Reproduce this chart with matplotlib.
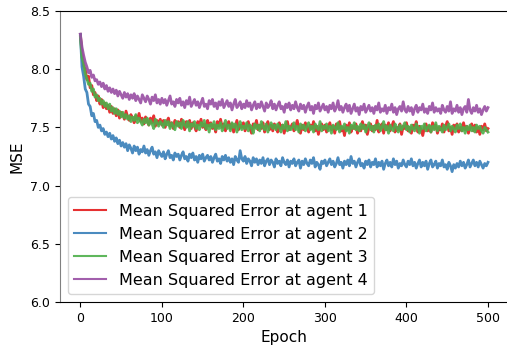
import numpy as np
import matplotlib
matplotlib.use("Agg")
import matplotlib.pyplot as plt

# MSE per agent, read every 2 epochs from the reference (epochs 0..500)
mse_agent1 = [
    8.30, 8.14, 8.03, 8.00, 7.91, 7.94, 7.84, 7.86, 7.78, 7.80,
    7.73, 7.77, 7.70, 7.74, 7.67, 7.71, 7.66, 7.69, 7.63, 7.68,
    7.62, 7.66, 7.60, 7.65, 7.58, 7.63, 7.61, 7.57, 7.64, 7.59,
    7.56, 7.61, 7.58, 7.54, 7.60, 7.57, 7.62, 7.55, 7.58, 7.53,
    7.59, 7.55, 7.52, 7.58, 7.54, 7.60, 7.51, 7.56, 7.53, 7.57,
    7.52, 7.56, 7.50, 7.55, 7.58, 7.51, 7.54, 7.49, 7.56, 7.52,
    7.55, 7.50, 7.57, 7.53, 7.48, 7.55, 7.51, 7.56, 7.49, 7.54,
    7.51, 7.47, 7.55, 7.52, 7.57, 7.50, 7.53, 7.48, 7.56, 7.51,
    7.54, 7.49, 7.52, 7.46, 7.55, 7.51, 7.57, 7.50, 7.53, 7.47,
    7.52, 7.55, 7.49, 7.53, 7.46, 7.51, 7.56, 7.48, 7.52, 7.50,
    7.54, 7.47, 7.51, 7.55, 7.49, 7.45, 7.53, 7.50, 7.56, 7.48,
    7.52, 7.49, 7.54, 7.46, 7.51, 7.55, 7.48, 7.52, 7.47, 7.53,
    7.50, 7.46, 7.54, 7.49, 7.52, 7.45, 7.51, 7.55, 7.48, 7.50,
    7.53, 7.47, 7.51, 7.56, 7.49, 7.45, 7.52, 7.48, 7.54, 7.50,
    7.46, 7.52, 7.49, 7.55, 7.47, 7.51, 7.44, 7.50, 7.53, 7.48,
    7.52, 7.46, 7.50, 7.54, 7.48, 7.51, 7.45, 7.53, 7.49, 7.55,
    7.47, 7.50, 7.43, 7.52, 7.48, 7.54, 7.46, 7.51, 7.49, 7.53,
    7.45, 7.50, 7.47, 7.55, 7.49, 7.52, 7.44, 7.50, 7.53, 7.47,
    7.51, 7.48, 7.56, 7.46, 7.50, 7.53, 7.45, 7.52, 7.48, 7.54,
    7.47, 7.51, 7.55, 7.46, 7.50, 7.48, 7.53, 7.44, 7.51, 7.49,
    7.54, 7.47, 7.50, 7.45, 7.52, 7.49, 7.55, 7.46, 7.51, 7.48,
    7.43, 7.50, 7.53, 7.47, 7.51, 7.46, 7.54, 7.49, 7.52, 7.45,
    7.50, 7.48, 7.53, 7.46, 7.51, 7.55, 7.47, 7.50, 7.44, 7.52,
    7.49, 7.53, 7.46, 7.50, 7.47, 7.54, 7.48, 7.51, 7.45, 7.50,
    7.53, 7.47, 7.52, 7.46, 7.50, 7.44, 7.51, 7.48, 7.53, 7.47,
    7.49]
mse_agent2 = [
    8.30, 8.02, 7.94, 7.83, 7.80, 7.70, 7.68, 7.60, 7.62, 7.55,
    7.56, 7.50, 7.52, 7.47, 7.49, 7.44, 7.46, 7.42, 7.45, 7.40,
    7.43, 7.38, 7.41, 7.36, 7.39, 7.34, 7.37, 7.33, 7.36, 7.30,
    7.35, 7.32, 7.28, 7.34, 7.30, 7.33, 7.27, 7.31, 7.29, 7.34,
    7.28, 7.31, 7.26, 7.30, 7.33, 7.27, 7.29, 7.24, 7.30, 7.27,
    7.25, 7.29, 7.23, 7.27, 7.30, 7.24, 7.26, 7.22, 7.28, 7.25,
    7.27, 7.22, 7.26, 7.29, 7.23, 7.25, 7.21, 7.27, 7.24, 7.28,
    7.22, 7.25, 7.20, 7.26, 7.23, 7.27, 7.21, 7.24, 7.26, 7.22,
    7.25, 7.20, 7.24, 7.27, 7.21, 7.23, 7.19, 7.25, 7.22, 7.26,
    7.21, 7.24, 7.20, 7.23, 7.18, 7.25, 7.22, 7.20, 7.30, 7.23,
    7.21, 7.25, 7.19, 7.23, 7.21, 7.17, 7.24, 7.20, 7.23, 7.18,
    7.22, 7.19, 7.24, 7.17, 7.21, 7.23, 7.18, 7.22, 7.20, 7.16,
    7.23, 7.19, 7.21, 7.17, 7.24, 7.20, 7.18, 7.22, 7.16, 7.21,
    7.19, 7.23, 7.17, 7.20, 7.22, 7.15, 7.21, 7.18, 7.23, 7.19,
    7.17, 7.22, 7.19, 7.24, 7.16, 7.20, 7.18, 7.14, 7.21, 7.19,
    7.22, 7.17, 7.20, 7.23, 7.18, 7.21, 7.16, 7.19, 7.24, 7.18,
    7.20, 7.15, 7.21, 7.18, 7.22, 7.17, 7.25, 7.19, 7.21, 7.16,
    7.20, 7.23, 7.17, 7.19, 7.15, 7.21, 7.18, 7.22, 7.16, 7.20,
    7.18, 7.23, 7.16, 7.20, 7.17, 7.21, 7.14, 7.19, 7.22, 7.17,
    7.20, 7.16, 7.23, 7.18, 7.21, 7.15, 7.19, 7.17, 7.22, 7.18,
    7.16, 7.21, 7.18, 7.23, 7.17, 7.20, 7.15, 7.19, 7.22, 7.16,
    7.20, 7.17, 7.21, 7.14, 7.19, 7.22, 7.16, 7.18, 7.21, 7.15,
    7.19, 7.17, 7.22, 7.16, 7.18, 7.14, 7.20, 7.17, 7.12, 7.18,
    7.15, 7.19, 7.16, 7.21, 7.17, 7.20, 7.15, 7.18, 7.22, 7.16,
    7.19, 7.22, 7.17, 7.20, 7.16, 7.21, 7.18, 7.15, 7.19, 7.17,
    7.20]
mse_agent3 = [
    8.28, 8.10, 8.05, 7.96, 7.92, 7.87, 7.88, 7.81, 7.83, 7.76,
    7.78, 7.73, 7.75, 7.70, 7.73, 7.68, 7.71, 7.66, 7.70, 7.64,
    7.67, 7.62, 7.66, 7.61, 7.64, 7.59, 7.63, 7.58, 7.61, 7.57,
    7.60, 7.55, 7.59, 7.56, 7.61, 7.54, 7.58, 7.55, 7.52, 7.57,
    7.54, 7.58, 7.52, 7.56, 7.53, 7.49, 7.57, 7.54, 7.51, 7.55,
    7.53, 7.50, 7.56, 7.52, 7.55, 7.49, 7.54, 7.51, 7.48, 7.55,
    7.51, 7.54, 7.49, 7.56, 7.52, 7.50, 7.55, 7.47, 7.53, 7.51,
    7.55, 7.49, 7.52, 7.48, 7.54, 7.51, 7.56, 7.49, 7.52, 7.46,
    7.53, 7.50, 7.55, 7.48, 7.52, 7.49, 7.54, 7.47, 7.51, 7.56,
    7.49, 7.52, 7.47, 7.54, 7.50, 7.53, 7.46, 7.51, 7.55, 7.48,
    7.51, 7.49, 7.54, 7.47, 7.52, 7.50, 7.45, 7.53, 7.49, 7.52,
    7.47, 7.55, 7.50, 7.48, 7.53, 7.46, 7.51, 7.54, 7.49, 7.52,
    7.48, 7.53, 7.50, 7.46, 7.52, 7.49, 7.55, 7.47, 7.51, 7.48,
    7.50, 7.54, 7.48, 7.51, 7.46, 7.53, 7.49, 7.52, 7.47, 7.51,
    7.54, 7.48, 7.51, 7.46, 7.53, 7.50, 7.48, 7.55, 7.47, 7.51,
    7.49, 7.53, 7.47, 7.51, 7.45, 7.52, 7.50, 7.48, 7.54, 7.46,
    7.51, 7.49, 7.53, 7.47, 7.50, 7.45, 7.52, 7.49, 7.54, 7.48,
    7.51, 7.47, 7.53, 7.49, 7.52, 7.46, 7.50, 7.54, 7.48, 7.51,
    7.46, 7.52, 7.49, 7.53, 7.47, 7.50, 7.55, 7.48, 7.51, 7.45,
    7.52, 7.49, 7.47, 7.53, 7.50, 7.46, 7.52, 7.48, 7.51, 7.54,
    7.48, 7.51, 7.46, 7.52, 7.49, 7.47, 7.53, 7.50, 7.45, 7.51,
    7.49, 7.53, 7.47, 7.50, 7.52, 7.46, 7.51, 7.48, 7.54, 7.47,
    7.51, 7.49, 7.46, 7.52, 7.48, 7.50, 7.53, 7.47, 7.51, 7.49,
    7.46, 7.52, 7.49, 7.53, 7.47, 7.50, 7.45, 7.51, 7.48, 7.52,
    7.47, 7.50, 7.46, 7.52, 7.49, 7.51, 7.47, 7.45, 7.50, 7.48,
    7.46]
mse_agent4 = [
    8.30, 8.19, 8.12, 8.06, 8.02, 7.97, 7.99, 7.93, 7.95, 7.90,
    7.91, 7.87, 7.89, 7.85, 7.88, 7.83, 7.86, 7.81, 7.84, 7.80,
    7.83, 7.79, 7.82, 7.77, 7.81, 7.78, 7.75, 7.80, 7.76, 7.79,
    7.74, 7.78, 7.75, 7.79, 7.73, 7.77, 7.74, 7.71, 7.78, 7.75,
    7.72, 7.77, 7.74, 7.70, 7.76, 7.73, 7.78, 7.71, 7.74, 7.70,
    7.75, 7.71, 7.74, 7.69, 7.73, 7.77, 7.70, 7.72, 7.68, 7.74,
    7.71, 7.75, 7.69, 7.72, 7.67, 7.73, 7.70, 7.76, 7.68, 7.71,
    7.74, 7.69, 7.72, 7.67, 7.71, 7.75, 7.68, 7.70, 7.66, 7.73,
    7.70, 7.74, 7.68, 7.71, 7.66, 7.72, 7.69, 7.74, 7.67, 7.70,
    7.73, 7.68, 7.71, 7.65, 7.70, 7.74, 7.67, 7.69, 7.72, 7.66,
    7.70, 7.67, 7.73, 7.68, 7.71, 7.65, 7.69, 7.72, 7.66, 7.70,
    7.67, 7.72, 7.68, 7.64, 7.71, 7.67, 7.69, 7.73, 7.66, 7.70,
    7.65, 7.69, 7.72, 7.66, 7.68, 7.63, 7.70, 7.67, 7.71, 7.65,
    7.69, 7.66, 7.72, 7.67, 7.64, 7.70, 7.66, 7.69, 7.63, 7.68,
    7.71, 7.65, 7.68, 7.62, 7.69, 7.66, 7.71, 7.64, 7.67, 7.70,
    7.65, 7.68, 7.63, 7.69, 7.66, 7.71, 7.64, 7.67, 7.73, 7.65,
    7.68, 7.63, 7.67, 7.70, 7.64, 7.69, 7.62, 7.66, 7.70, 7.64,
    7.67, 7.61, 7.68, 7.65, 7.70, 7.63, 7.66, 7.69, 7.64, 7.67,
    7.62, 7.68, 7.65, 7.71, 7.63, 7.66, 7.64, 7.69, 7.62, 7.67,
    7.65, 7.70, 7.63, 7.67, 7.61, 7.66, 7.68, 7.64, 7.72, 7.65,
    7.63, 7.68, 7.64, 7.67, 7.61, 7.66, 7.69, 7.63, 7.67, 7.65,
    7.70, 7.63, 7.66, 7.62, 7.68, 7.65, 7.71, 7.63, 7.67, 7.64,
    7.66, 7.62, 7.69, 7.65, 7.63, 7.68, 7.64, 7.72, 7.62, 7.66,
    7.64, 7.69, 7.63, 7.67, 7.61, 7.66, 7.68, 7.63, 7.74, 7.65,
    7.62, 7.67, 7.64, 7.69, 7.63, 7.66, 7.61, 7.65, 7.68, 7.64,
    7.67]

series = [mse_agent1, mse_agent2, mse_agent3, mse_agent4]
labels = ["Mean Squared Error at agent %d" % (i + 1) for i in range(4)]
colors = ["#e41a1c", "#377eb8", "#4daf4a", "#984ea3"]

fig = plt.figure(figsize=(5.07, 3.48), dpi=100)
ax = fig.add_axes([0.1183, 0.1322, 0.8844, 0.8362])

for vals, lab, col in zip(series, labels, colors):
    epochs = np.arange(len(vals)) * 2
    ax.plot(epochs, vals, color=col, lw=2.0, alpha=0.9, label=lab)

ax.set_xlim(-25, 525)
ax.set_ylim(6.0, 8.5)
ax.set_yticks(np.arange(6.0, 8.51, 0.5))
ax.set_xticks([0, 100, 200, 300, 400, 500])
ax.tick_params(labelsize=9)
ax.set_xlabel("Epoch", fontsize=11)
ax.set_ylabel("MSE", fontsize=11)
ax.spines["left"].set_color("0.5")

leg = ax.legend(loc="lower left", fontsize=11.5)
for line in leg.get_lines():
    line.set_linewidth(1.5)

fig.savefig("out.png", dpi=100)
